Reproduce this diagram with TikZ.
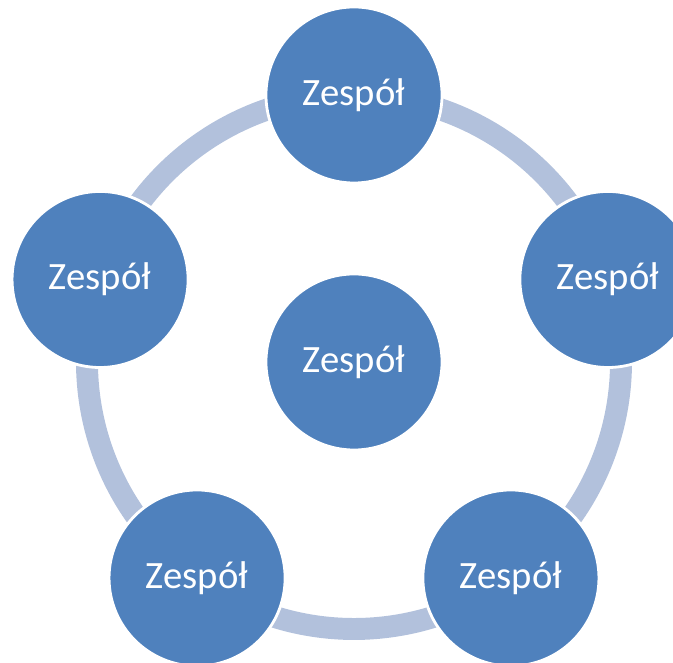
\documentclass[tikz,border=0pt]{standalone}
\usepackage{fontspec}
\setmainfont{Carlito}
\usetikzlibrary{positioning}
\definecolor{teamblue}{HTML}{4F81BD}
\definecolor{ringblue}{HTML}{B2C1DC}
\tikzset{
    team/.style={
        circle,
        draw=white,
        line width=2pt,
        fill=teamblue,
        minimum size=4.4cm,
        inner sep=0pt,
        text=white,
        font=\fontsize{27.5}{32}\selectfont
    },
    ring/.style={
        draw=ringblue,
        line width=15.6pt
    }
}

\begin{document}
\begin{tikzpicture}[x=0.025cm,y=0.025cm]
    \useasboundingbox (0,0) rectangle (673,663);
    % centre of the cycle
    \coordinate (C) at (354,301);

    % Ring segments between the teams
    \draw[ring] ([shift={(90:267)}]C) arc[start angle=90, end angle=18, radius=267];
    \draw[ring] ([shift={(18:267)}]C) arc[start angle=18, end angle=-54, radius=267];
    \draw[ring] ([shift={(-54:267)}]C) arc[start angle=-54, end angle=-126, radius=267];
    \draw[ring] ([shift={(-126:267)}]C) arc[start angle=-126, end angle=-198, radius=267];
    \draw[ring] ([shift={(162:267)}]C) arc[start angle=162, end angle=90, radius=267];

    % Teams
    \node[team] (top)    at ([shift={(90:267)}]C)   {Zespół};
    \node[team] (right)  at ([shift={(18:267)}]C)   {Zespół};
    \node[team] (bright) at ([shift={(-54:267)}]C)  {Zespół};
    \node[team] (bleft)  at ([shift={(-126:267)}]C) {Zespół};
    \node[team] (left)   at ([shift={(162:267)}]C)  {Zespół};
    \node[team] (middle) at (C) {Zespół};
\end{tikzpicture}
\end{document}
